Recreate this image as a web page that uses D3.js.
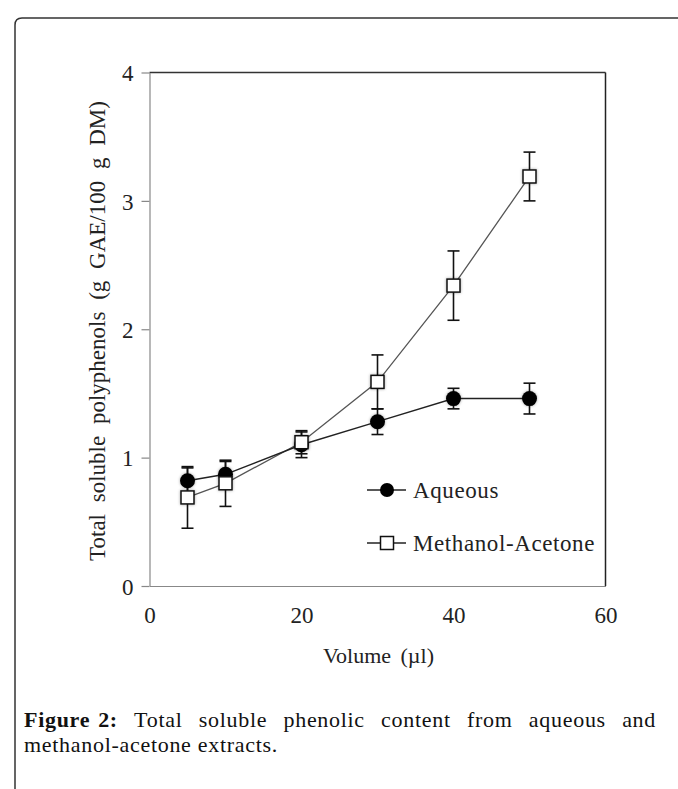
<!DOCTYPE html>
<html>
<head>
<meta charset="utf-8">
<script src="https://cdn.jsdelivr.net/npm/d3@7"></script>
<style>
  body { margin: 0; background: #fff; }
  svg { display: block; }
  .serif { font-family: "Liberation Serif", "Times New Roman", serif; fill: #222; }
</style>
</head>
<body>
<div id="chart"></div>
<script>
// chart values
var volume = [5, 10, 20, 30, 40, 50];
var aqueous = [0.82, 0.87, 1.10, 1.28, 1.46, 1.46];
var aqueousErr = [0.10, 0.10, 0.10, 0.10, 0.08, 0.12];
var methAce = [0.69, 0.80, 1.12, 1.59, 2.34, 3.19];
var methAceErr = [0.24, 0.18, 0.09, 0.21, 0.27, 0.19];
var xTicks = [0, 20, 40, 60];
var yTicks = [0, 1, 2, 3, 4];
var seriesNames = ["Aqueous", "Methanol-Acetone"];
var captionBold = "Figure 2:";
var captionLine1 = "Total soluble phenolic content from aqueous and";
var captionLine2 = "methanol-acetone extracts.";

var W = 678, H = 789;
var svg = d3.select("#chart").append("svg").attr("width", W).attr("height", H);

// soft halo like the scanned markers
var defs = svg.append("defs");
var f = defs.append("filter").attr("id", "halo").attr("x", "-50%").attr("y", "-50%").attr("width", "200%").attr("height", "200%");
f.append("feGaussianBlur").attr("in", "SourceAlpha").attr("stdDeviation", 1.6).attr("result", "b");
f.append("feFlood").attr("flood-color", "#000").attr("flood-opacity", 0.35);
f.append("feComposite").attr("in2", "b").attr("operator", "in").attr("result", "s");
var fm = f.append("feMerge");
fm.append("feMergeNode").attr("in", "s");
fm.append("feMergeNode").attr("in", "SourceGraphic");

// outer frame (runs off the right and bottom)
svg.append("path")
    .attr("d", "M15,800 L15,25 Q15,18 22,18 L690,18")
    .attr("fill", "none").attr("stroke", "#333").attr("stroke-width", 1.5);

var plotL = 149.5, plotR = 605.5, plotT = 72.5, plotB = 586;
var x = d3.scaleLinear().domain([0, 60]).range([plotL, plotR]);
var y = d3.scaleLinear().domain([0, 4]).range([plotB, plotT]);

// plot frame: top and right solid, left and bottom gray axes
svg.append("line").attr("x1", plotL).attr("x2", plotR).attr("y1", plotT).attr("y2", plotT)
    .attr("stroke", "#333").attr("stroke-width", 1.5);
svg.append("line").attr("x1", plotR).attr("x2", plotR).attr("y1", plotT).attr("y2", plotB)
    .attr("stroke", "#222").attr("stroke-width", 1.5);

var yAxis = svg.append("g").attr("transform", "translate(" + plotL + ",0)")
    .call(d3.axisLeft(y).tickValues(yTicks).tickSize(8).tickSizeOuter(0).tickFormat(d3.format("d")));
yAxis.select(".domain").attr("stroke", "#888").attr("stroke-width", 1.2);
yAxis.selectAll(".tick line").attr("stroke", "#888").attr("stroke-width", 1.2);
yAxis.selectAll(".tick text").attr("class", "serif").attr("x", -16).attr("dy", "0.36em")
    .style("font-size", "23px");

var xAxis = svg.append("g").attr("transform", "translate(0," + plotB + ")")
    .call(d3.axisBottom(x).tickValues(xTicks).tickSize(0).tickSizeOuter(0).tickFormat(d3.format("d")));
xAxis.select(".domain").attr("stroke", "#888").attr("stroke-width", 1.2);
xAxis.selectAll(".tick text").attr("class", "serif").attr("y", 21).attr("dy", "0.71em")
    .style("font-size", "23px");
svg.selectAll(".tick text").attr("font-family", null).attr("fill", "#222");

// axis titles
svg.append("text").attr("class", "serif")
    .attr("x", (plotL + plotR) / 2 + 1).attr("y", 663)
    .attr("text-anchor", "middle").style("font-size", "22px").style("word-spacing", "4px")
    .text("Volume (\u00b5l)");
svg.append("text").attr("class", "serif")
    .attr("transform", "translate(105,331) rotate(-90)")
    .attr("text-anchor", "middle").style("font-size", "23px").style("word-spacing", "6px")
    .text("Total soluble polyphenols (g GAE/100 g DM)");

var aqData = volume.map(function (v, i) { return { x: v, y: aqueous[i], e: aqueousErr[i] }; });
var maData = volume.map(function (v, i) { return { x: v, y: methAce[i], e: methAceErr[i] }; });

function errorBars(data) {
    var g = svg.append("g").attr("stroke", "#111").attr("stroke-width", 1.6);
    data.forEach(function (d) {
        g.append("line").attr("x1", x(d.x)).attr("x2", x(d.x)).attr("y1", y(d.y - d.e)).attr("y2", y(d.y + d.e));
        g.append("line").attr("x1", x(d.x) - 6).attr("x2", x(d.x) + 6).attr("y1", y(d.y - d.e)).attr("y2", y(d.y - d.e));
        g.append("line").attr("x1", x(d.x) - 6).attr("x2", x(d.x) + 6).attr("y1", y(d.y + d.e)).attr("y2", y(d.y + d.e));
    });
}
errorBars(maData);
errorBars(aqData);

var line = d3.line().x(function (d) { return x(d.x); }).y(function (d) { return y(d.y); });
svg.append("path").datum(maData).attr("d", line)
    .attr("fill", "none").attr("stroke", "#555").attr("stroke-width", 1.3);
svg.append("path").datum(aqData).attr("d", line)
    .attr("fill", "none").attr("stroke", "#222").attr("stroke-width", 1.4);

svg.append("g").selectAll("circle").data(aqData).enter().append("circle")
    .attr("cx", function (d) { return x(d.x); })
    .attr("cy", function (d) { return y(d.y); })
    .attr("r", 7.5).attr("fill", "#000").attr("filter", "url(#halo)");

svg.append("g").selectAll("rect").data(maData).enter().append("rect")
    .attr("x", function (d) { return x(d.x) - 6.5; })
    .attr("y", function (d) { return y(d.y) - 6.5; })
    .attr("width", 13).attr("height", 13)
    .attr("fill", "#fff").attr("stroke", "#111").attr("stroke-width", 1.5)
    .attr("filter", "url(#halo)");

// legend
var lg = svg.append("g").attr("transform", "translate(367,490)");
seriesNames.forEach(function (name, i) {
    var row = lg.append("g").attr("transform", "translate(0," + (i * 53) + ")");
    row.append("line").attr("x1", 0).attr("x2", 39).attr("y1", 0).attr("y2", 0)
        .attr("stroke", "#222").attr("stroke-width", 1.4);
    if (i === 0) {
        row.append("circle").attr("cx", 20).attr("cy", 0).attr("r", 7).attr("fill", "#000");
    } else {
        row.append("rect").attr("x", 13.5).attr("y", -6.5).attr("width", 13).attr("height", 13)
            .attr("fill", "#fff").attr("stroke", "#111").attr("stroke-width", 1.5);
    }
    row.append("text").attr("class", "serif").attr("x", 46).attr("y", 8)
        .style("font-size", "23px").style("letter-spacing", "0.6px").text(name);
});

// caption, first line justified
var capX0 = 24, capX1 = 656, capY = 727;
var words = captionBold.split(" ").concat(captionLine1.split(" "));
var capG = svg.append("g");
var nodes = words.map(function (w, i) {
    return capG.append("text").attr("class", "serif").attr("y", capY)
        .style("font-size", "22px").style("letter-spacing", "0.7px")
        .style("font-weight", i < 2 ? "bold" : "normal")
        .style("fill", "#111").text(w);
});
var widths = nodes.map(function (n) { return n.node().getComputedTextLength(); });
var firstGap = 8;
var gap = (capX1 - capX0 - d3.sum(widths) - firstGap) / (words.length - 2);
var cx = capX0;
nodes.forEach(function (n, i) {
    n.attr("x", cx);
    cx += widths[i] + (i === 0 ? firstGap : gap);
});
svg.append("text").attr("class", "serif").attr("x", capX0).attr("y", capY + 25)
    .style("font-size", "22px").style("letter-spacing", "0.7px").style("fill", "#111")
    .text(captionLine2);
</script>
</body>
</html>
